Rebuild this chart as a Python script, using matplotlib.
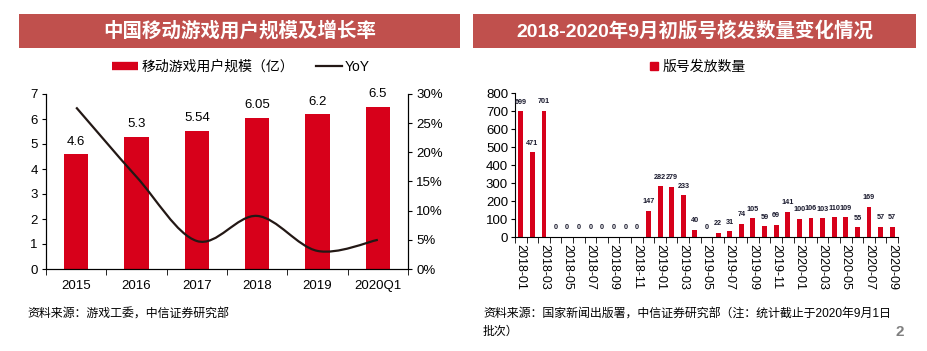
import matplotlib
matplotlib.use("Agg")
import matplotlib.pyplot as plt
from matplotlib.patches import Rectangle
from matplotlib.path import Path
from matplotlib.patches import PathPatch
from matplotlib.lines import Line2D
import numpy as np

plt.rcParams['font.family'] = ['Liberation Sans', 'Noto Sans CJK SC', 'DejaVu Sans']

# ---------------- data ----------------
left_title = "中国移动游戏用户规模及增长率"
left_categories = ["2015", "2016", "2017", "2018", "2019", "2020Q1"]
users = [4.6, 5.3, 5.54, 6.05, 6.2, 6.5]
user_labels = ["4.6", "5.3", "5.54", "6.05", "6.2", "6.5"]
yoy = [27.7, 15.8, 4.8, 9.1, 3.1, 5.0]
left_series_names = ["移动游戏用户规模（亿）", "YoY"]
left_source = "资料来源：游戏工委，中信证券研究部"

right_title = "2018-2020年9月初版号核发数量变化情况"
months = ["2018-01", "2018-02", "2018-03", "2018-04", "2018-05", "2018-06",
          "2018-07", "2018-08", "2018-09", "2018-10", "2018-11", "2018-12",
          "2019-01", "2019-02", "2019-03", "2019-04", "2019-05", "2019-06",
          "2019-07", "2019-08", "2019-09", "2019-10", "2019-11", "2019-12",
          "2020-01", "2020-02", "2020-03", "2020-04", "2020-05", "2020-06",
          "2020-07", "2020-08", "2020-09"]
approvals = [699, 471, 701, 0, 0, 0, 0, 0, 0, 0, 0, 147,
             282, 279, 233, 40, 0, 22, 31, 74, 105, 59, 69, 141,
             100, 106, 103, 110, 109, 55, 169, 57, 57]
right_series_name = "版号发放数量"
right_source_1 = "资料来源：国家新闻出版署，中信证券研究部（注：统计截止于2020年9月1日"
right_source_2 = "批次）"
page_number = "2"

# ---------------- style ----------------
W, H = 928, 351
BAR = "#D7001A"
BANNER = "#C0504D"
fig = plt.figure(figsize=(W / 100, H / 100), dpi=100)


def fx(px):
    return px / W


def fy(py):
    return 1 - py / H


# banners
for x0, x1, title in [(19, 460, left_title), (473, 916, right_title)]:
    fig.add_artist(Rectangle((fx(x0), fy(48)), fx(x1 - x0), (48 - 14) / H,
                             transform=fig.transFigure, facecolor=BANNER,
                             edgecolor="none"))
    fig.text(fx((x0 + x1) / 2), fy(31), title, color="white", fontsize=14,
             fontweight="bold", ha="center", va="center")

# ---------------- left chart ----------------
axL = fig.add_axes([fx(46), fy(269), fx(408 - 46), (269 - 94) / H])
xL = np.arange(len(left_categories))
axL.bar(xL, users, width=0.4, color=BAR, zorder=2)
for xi, v, lab in zip(xL, users, user_labels):
    axL.annotate(lab, (xi, v), xytext=(0, 4.5), textcoords="offset points",
                 ha="center", va="bottom", fontsize=9.5)
axL.set_ylim(0, 7)
axL.set_xlim(-0.5, len(left_categories) - 0.5)
axL.set_yticks(range(0, 8))
axL.set_xticks(xL)
axL.set_xticklabels(left_categories)
axL.set_xticks(np.arange(-0.5, len(left_categories)), minor=True)
axL.tick_params(axis="x", which="major", length=0, pad=8, labelsize=9.5)
axL.tick_params(axis="x", which="minor", length=4, direction="out")
axL.tick_params(axis="y", length=3, direction="out", labelsize=9.5, pad=3)
axL.spines["top"].set_visible(False)

axR2 = axL.twinx()
axR2.set_ylim(0, 30)
axR2.set_yticks(range(0, 31, 5))
axR2.set_yticklabels([f"{v}%" for v in range(0, 31, 5)])
axR2.tick_params(axis="y", length=3, direction="out", labelsize=9.5, pad=3)
axR2.spines["top"].set_visible(False)

# smooth (Catmull-Rom style Bezier) line through the YoY points
pts = np.column_stack([xL, yoy]).astype(float)
n = len(pts)
verts = [tuple(pts[0])]
codes = [Path.MOVETO]
for i in range(n - 1):
    p0 = pts[i - 1] if i > 0 else pts[i]
    p1 = pts[i]
    p2 = pts[i + 1]
    p3 = pts[i + 2] if i + 2 < n else pts[i + 1]
    c1 = p1 + (p2 - p0) / 6
    c2 = p2 - (p3 - p1) / 6
    verts += [tuple(c1), tuple(c2), tuple(p2)]
    codes += [Path.CURVE4] * 3
axR2.add_patch(PathPatch(Path(verts, codes), facecolor="none",
                         edgecolor="#231815", lw=1.6, zorder=3))

handles = [Line2D([], [], color=BAR, lw=6, solid_capstyle="butt"),
           Line2D([], [], color="#231815", lw=1.6)]
fig.legend(handles, left_series_names, loc="center",
           bbox_to_anchor=(fx(241), fy(67)), ncol=2, frameon=False,
           fontsize=10, handlelength=1.9, handletextpad=0.2,
           columnspacing=1.6)

fig.text(fx(27), fy(315), left_source, fontsize=8.6, ha="left", va="center")

# ---------------- right chart ----------------
axB = fig.add_axes([fx(515), fy(237), fx(898 - 515), (237 - 93) / H])
xm = np.arange(len(months))
axB.bar(xm, approvals, width=0.42, color=BAR, zorder=2)
for xi, v in zip(xm, approvals):
    axB.annotate(str(v), (xi, v), xytext=(0, 4), textcoords="offset points",
                 ha="center", va="bottom", fontsize=5.2, fontweight="bold",
                 color="#1a1a2e")
axB.set_ylim(0, 800)
axB.set_xlim(-0.5, len(months) - 0.5)
axB.set_yticks(range(0, 801, 100))
axB.set_xticks(xm[::2])
axB.set_xticklabels(months[::2], rotation=-90)
axB.set_xticks(np.arange(-0.5, len(months)), minor=True)
axB.tick_params(axis="x", which="major", length=0, pad=5, labelsize=9)
axB.tick_params(axis="x", which="minor", length=4, direction="out")
axB.tick_params(axis="y", length=3, direction="out", labelsize=9.5, pad=2)
for s in ["top", "right"]:
    axB.spines[s].set_visible(False)

fig.legend([Line2D([], [], color=BAR, marker="s", ls="none", markersize=6)],
           [right_series_name], loc="center",
           bbox_to_anchor=(fx(697), fy(67)), frameon=False, fontsize=10,
           handlelength=0.8, handletextpad=0.2)

fig.text(fx(483), fy(315), right_source_1, fontsize=8.6, ha="left", va="center")
fig.text(fx(483), fy(332), right_source_2, fontsize=8.6, ha="left", va="center")
fig.text(fx(900), fy(332), page_number, fontsize=11, fontweight="bold",
         color="#7f7f7f", ha="center", va="center")

fig.savefig("out.png", dpi=100)
